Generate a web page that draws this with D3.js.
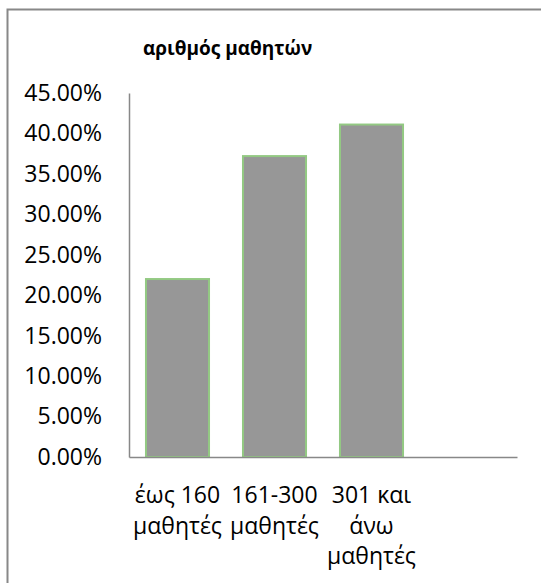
<!DOCTYPE html>
<html><head><meta charset="utf-8">
<script src="https://cdn.jsdelivr.net/npm/d3@7"></script>
<style>body{margin:0;background:#fff}svg{display:block}</style>
</head><body>
<script>
const title = "αριθμός μαθητών";
const categories = ["έως 160 μαθητές", "161-300 μαθητές", "301 και άνω μαθητές", ""];
const categoryLines = [["έως 160", "μαθητές"], ["161-300", "μαθητές"], ["301 και", "άνω", "μαθητές"], []];
const values = [0.220, 0.372, 0.411, null];
const yTicks = [0, 0.05, 0.10, 0.15, 0.20, 0.25, 0.30, 0.35, 0.40, 0.45];

const W = 541, H = 583;
const svg = d3.select("body").append("svg").attr("width", W).attr("height", H);
const font = "'Open Sans', 'Noto Sans', sans-serif";

// chart border (cropped)
svg.append("rect").attr("x", 7.5).attr("y", 9.5).attr("width", 600).attr("height", 700)
  .attr("fill", "none").attr("stroke", "#888").attr("stroke-width", 2);

const pLeft = 129, pRight = 517, pTop = 93, pBottom = 457;
const x = d3.scaleBand().domain(categories).range([pLeft, pRight]).paddingInner(0.35).paddingOuter(0.175);
const y = d3.scaleLinear().domain([0, 0.45]).range([pBottom, pTop]);

svg.append("text").attr("x", 143).attr("y", 55).text(title)
  .attr("font-family", font).attr("font-weight", "bold").attr("font-size", 19).attr("fill", "#000");

// bars
svg.selectAll("rect.bar").data(categories.filter((c, i) => values[i] != null)).join("rect")
  .attr("class", "bar")
  .attr("x", d => x(d)).attr("width", x.bandwidth())
  .attr("y", (d) => y(values[categories.indexOf(d)]))
  .attr("height", d => pBottom - y(values[categories.indexOf(d)]))
  .attr("fill", "#979797").attr("stroke", "#93c983").attr("stroke-width", 2);

// y axis
const yAxis = d3.axisLeft(y).tickValues(yTicks).tickFormat(d => (d * 100).toFixed(2) + "%").tickSize(0).tickPadding(27);
const gy = svg.append("g").attr("transform", `translate(${pLeft},0)`).call(yAxis);
gy.select(".domain").attr("stroke", "#888").attr("stroke-width", 1.5);
gy.selectAll("text").attr("font-family", font).attr("font-size", 23).attr("fill", "#000");

// x axis
const xAxis = d3.axisBottom(x).tickSize(0).tickFormat("");
const gx = svg.append("g").attr("transform", `translate(0,${pBottom})`).call(xAxis);
gx.select(".domain").attr("stroke", "#888").attr("stroke-width", 1.5);
gx.selectAll(".tick").each(function(d, i) {
  const t = d3.select(this).append("text").attr("text-anchor", "middle")
    .attr("font-family", font).attr("font-size", 23).attr("fill", "#000");
  categoryLines[i].forEach((ln, j) => {
    t.append("tspan").attr("x", 0).attr("y", 46 + j * 30.5).text(ln);
  });
});
</script>
</body></html>
